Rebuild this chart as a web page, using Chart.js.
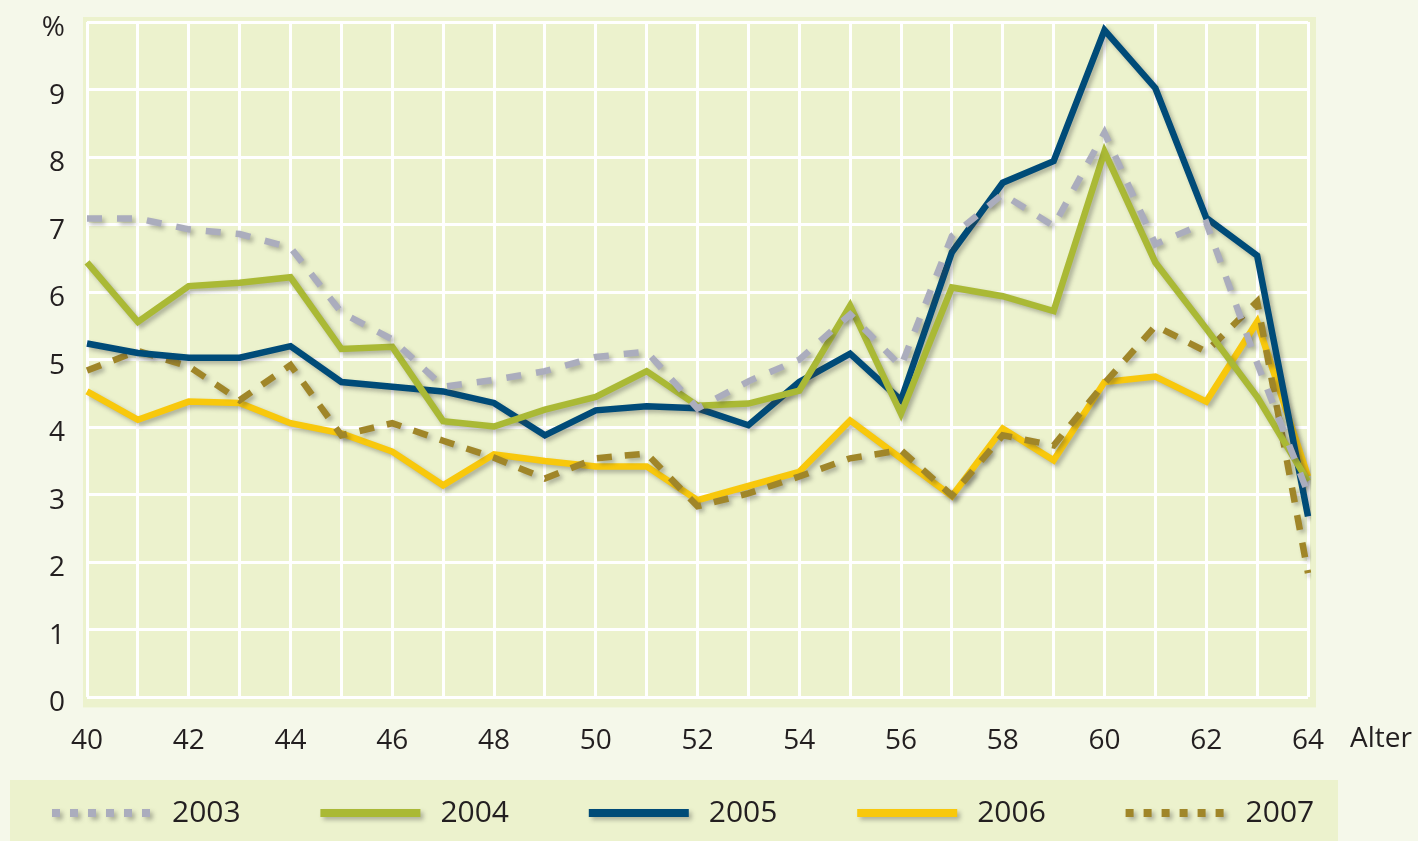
<!DOCTYPE html>
<html>
<head>
<meta charset="utf-8">
<script src="https://cdn.jsdelivr.net/npm/chart.js@4.4.1/dist/chart.umd.min.js"></script>
<style>
  body { margin: 0; background: #f5f8ea; }
  #wrap { width: 1418px; height: 841px; }
</style>
</head>
<body>
<div id="wrap"><canvas id="ageCanvas" width="1418" height="841"></canvas></div>
<script>
// Alter (x axis)
const ages = ["40","41","42","43","44","45","46","47","48","49","50","51","52",
              "53","54","55","56","57","58","59","60","61","62","63","64"];

// values in %
const v2003 = [7.09, 7.09, 6.93, 6.86, 6.66, 5.70, 5.30, 4.60, 4.70, 4.83, 5.04, 5.12, 4.28,
               4.68, 5.00, 5.67, 4.90, 6.83, 7.45, 6.98, 8.36, 6.71, 7.03, 4.95, 3.02];
const v2004 = [6.44, 5.56, 6.09, 6.14, 6.22, 5.16, 5.19, 4.09, 4.01, 4.26, 4.45, 4.83, 4.32,
               4.35, 4.54, 5.80, 4.20, 6.07, 5.94, 5.72, 8.08, 6.44, 5.46, 4.45, 3.20];
const v2005 = [5.24, 5.10, 5.03, 5.03, 5.20, 4.67, 4.60, 4.53, 4.36, 3.88, 4.25, 4.31, 4.28,
               4.03, 4.67, 5.09, 4.40, 6.59, 7.62, 7.94, 9.88, 9.02, 7.10, 6.54, 2.68];
const v2006 = [4.53, 4.11, 4.38, 4.36, 4.06, 3.91, 3.64, 3.14, 3.60, 3.50, 3.42, 3.42, 2.92,
               3.13, 3.34, 4.10, 3.54, 2.98, 3.98, 3.51, 4.67, 4.75, 4.38, 5.56, 3.27];
const v2007 = [4.84, 5.13, 4.90, 4.40, 4.92, 3.88, 4.06, 3.80, 3.55, 3.24, 3.54, 3.61, 2.83,
               3.02, 3.27, 3.54, 3.66, 2.99, 3.88, 3.73, 4.65, 5.50, 5.12, 5.86, 1.84];

const yTicks = [0,1,2,3,4,5,6,7,8,9,10];
const yTopLabel = "%";
const xTitle = "Alter";

const fontName = "'Open Sans', sans-serif";
const textColor = "#231f20";
const panelColor = "#ecf2cd";

// background panels + shadow on the lines
const decor = {
  id: "decor",
  beforeDraw(chart) {
    const c = chart.ctx, a = chart.chartArea;
    c.save();
    c.fillStyle = panelColor;
    c.fillRect(a.left - 4, a.top - 5, a.right - a.left + 12, a.bottom - a.top + 15);
    c.fillRect(10, 780, 1328, 61);
    c.restore();
  },
  beforeDatasetDraw(chart) {
    const c = chart.ctx;
    c.save();
    c.shadowColor = "rgba(60,60,60,0.35)";
    c.shadowOffsetX = 3;
    c.shadowOffsetY = 3;
    c.shadowBlur = 4;
  },
  afterDatasetDraw(chart) {
    chart.ctx.restore();
  },
  afterDraw(chart) {
    const c = chart.ctx, a = chart.chartArea;
    c.save();
    c.fillStyle = textColor;
    c.font = "28px " + fontName;
    c.textBaseline = "middle";
    c.textAlign = "left";
    c.fillText(xTitle, a.right + 42, 739);

    // legend
    c.font = "30px " + fontName;
    chart.data.datasets.forEach((ds, i) => {
      const x = 52 + i * 268.4, y = 813;
      c.save();
      c.shadowColor = "rgba(60,60,60,0.35)";
      c.shadowOffsetX = 3;
      c.shadowOffsetY = 3;
      c.shadowBlur = 4;
      c.strokeStyle = ds.borderColor;
      c.lineWidth = 8;
      c.setLineDash(ds.borderDash.length ? [8, 10] : []);
      c.beginPath();
      c.moveTo(x, y);
      c.lineTo(x + 100, y);
      c.stroke();
      c.restore();
      c.fillText(ds.label, x + 120, y);
    });
    c.restore();
  }
};

function line(label, data, color, dash, order) {
  return {
    label: label,
    data: data,
    borderColor: color,
    backgroundColor: color,
    borderWidth: 6.5,
    borderDash: dash,
    borderCapStyle: "butt",
    pointRadius: 0,
    tension: 0,
    fill: false,
    order: order
  };
}

new Chart(document.getElementById("ageCanvas"), {
  type: "line",
  data: {
    labels: ages,
    datasets: [
      line("2003", v2003, "#abadbd", [15, 15], 1),
      line("2004", v2004, "#aab935", [], 2),
      line("2005", v2005, "#004b78", [], 3),
      line("2006", v2006, "#f8c80c", [], 5),
      line("2007", v2007, "#a08629", [15, 13], 4)
    ]
  },
  options: {
    responsive: false,
    animation: false,
    layout: { autoPadding: false, padding: { left: 0, right: 0, top: 22, bottom: 56 } },
    plugins: { legend: { display: false }, tooltip: { enabled: false } },
    scales: {
      x: {
        offset: false,
        afterFit: (s) => { s.paddingLeft = 0; s.paddingRight = 0; },
        grid: { color: "#ffffff", lineWidth: 3, drawTicks: false },
        border: { display: false },
        ticks: {
          autoSkip: false,
          maxRotation: 0,
          padding: 27,
          color: textColor,
          font: { family: fontName, size: 28 },
          callback: (v, i) => (i % 2 === 0 ? ages[i] : "")
        }
      },
      y: {
        min: 0,
        max: 10,
        afterFit: (s) => { s.width = 87; s.paddingTop = 0; s.paddingBottom = 0; },
        afterBuildTicks: (s) => { s.ticks = yTicks.map(v => ({ value: v })); },
        grid: { color: "#ffffff", lineWidth: 3, drawTicks: false },
        border: { display: false },
        ticks: {
          padding: 22,
          labelOffset: 6,
          color: textColor,
          font: { family: fontName, size: 28 },
          callback: (v) => (v === 10 ? yTopLabel : v)
        }
      },
      yRight: {
        position: "right",
        display: true,
        afterFit: (s) => { s.width = 110; s.paddingTop = 0; s.paddingBottom = 0; },
        grid: { display: false },
        border: { display: false },
        ticks: { display: false }
      }
    }
  },
  plugins: [decor]
});
</script>
</body>
</html>
